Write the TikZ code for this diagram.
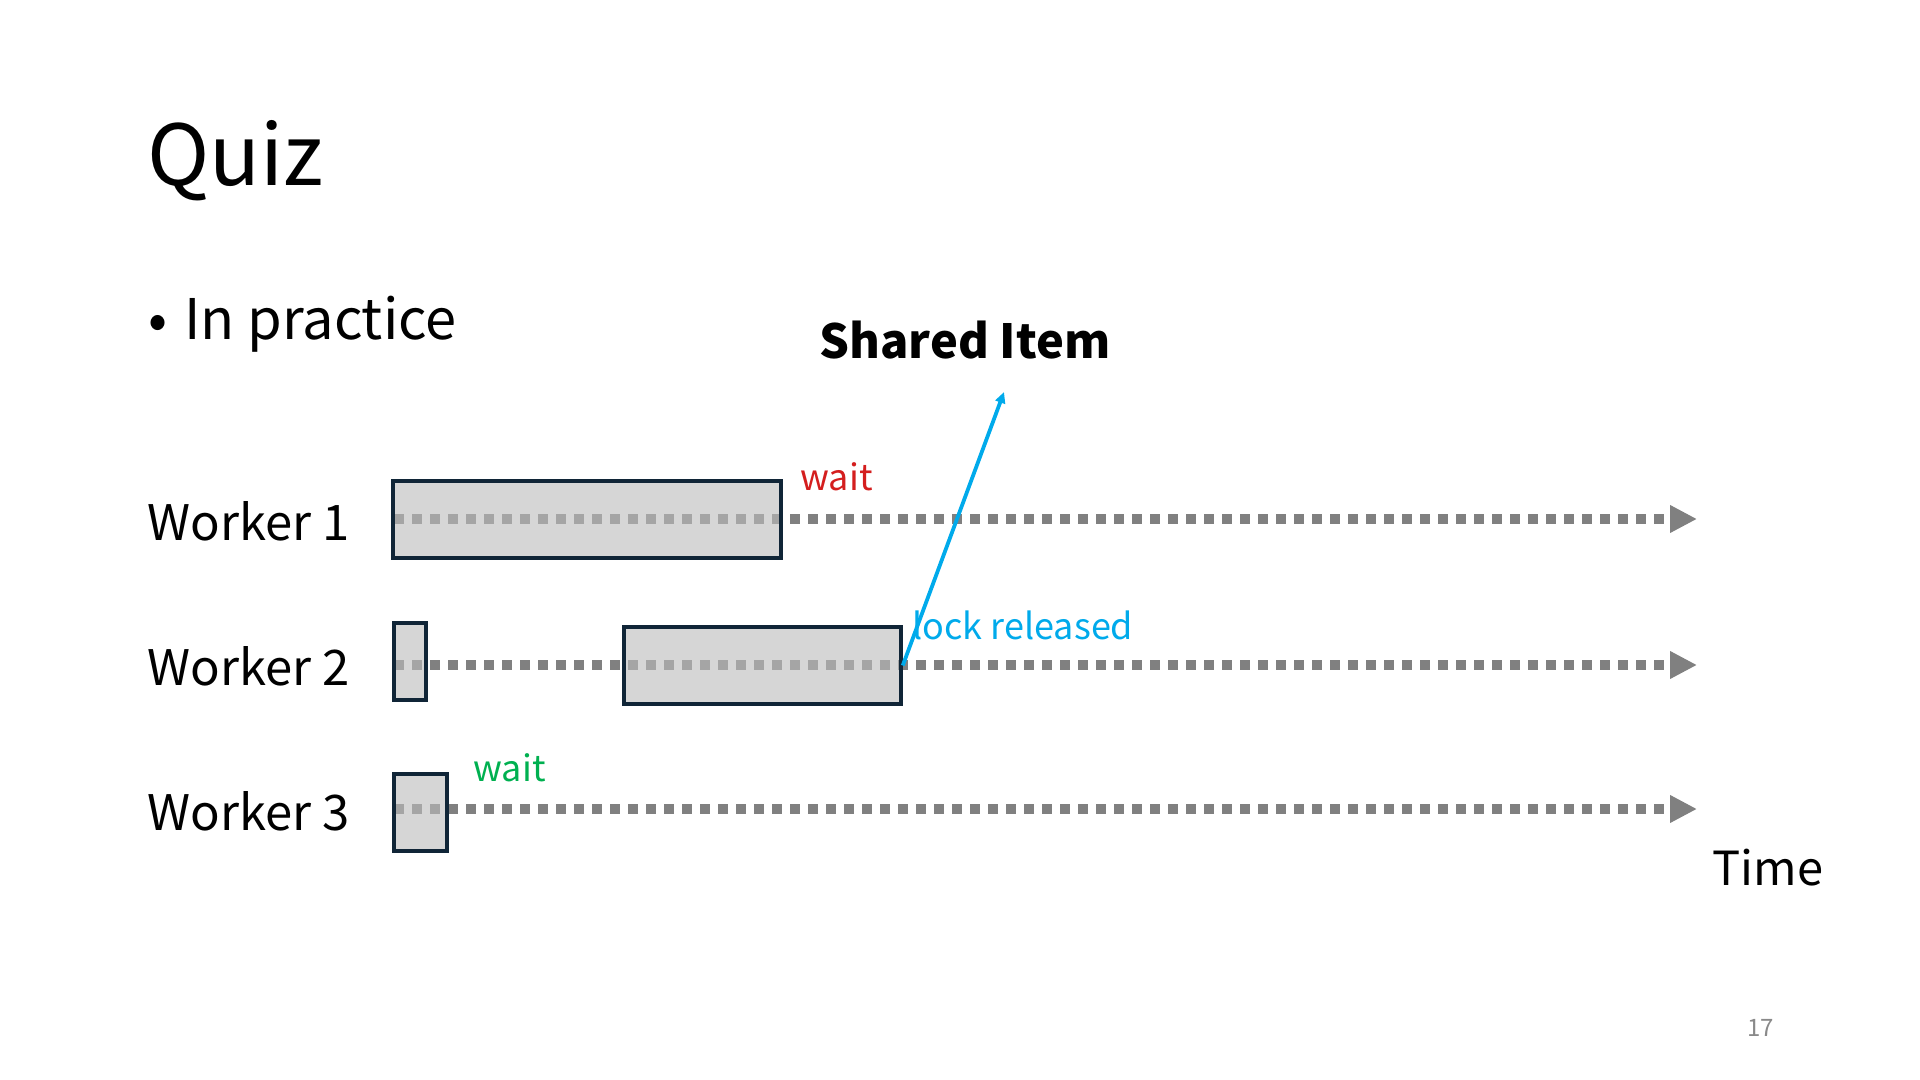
\documentclass[tikz,border=0pt]{standalone}
\usepackage{fontspec}
\setmainfont{Noto Sans CJK JP}
\usepackage{tikz}
\usetikzlibrary{arrows.meta, positioning}
\definecolor{cLine}{RGB}{128,128,128}
\definecolor{cFill}{RGB}{189,189,189}
\definecolor{cEdge}{RGB}{16,37,55}
\definecolor{cRed}{RGB}{212,30,30}
\definecolor{cGreen}{RGB}{0,176,80}
\definecolor{cBlue}{RGB}{0,170,235}
\definecolor{cPage}{RGB}{137,137,137}
\tikzset{
    txt/.style     ={inner sep=0pt, anchor=base west},
    task/.style    ={rectangle, draw=cEdge, line width=1.75pt, fill=cFill, fill opacity=0.62, draw opacity=1, minimum height=38.5pt, inner sep=0pt},
    timeline/.style={cLine, line width=5pt, dash pattern=on 5pt off 4pt, -{Triangle[length=13.5pt, width=13pt]}},
    release/.style ={cBlue, line width=1.9pt, -{Triangle[length=5.5pt, width=5pt]}},
    note/.style    ={txt, font=\fontsize{18pt}{22pt}\selectfont},
    worker/.style  ={txt, font=\fontsize{24.5pt}{30pt}\selectfont},
}

\begin{document}
\begin{tikzpicture}[x=0.5pt, y=-0.5pt]
            \useasboundingbox (0,0) rectangle (1920,1080);
            % title and bullet
            \node[txt, font=\fontsize{42pt}{50pt}\selectfont] (title) at (147,186) {Quiz};
            \node[txt, font=\fontsize{28pt}{34pt}\selectfont] (bullet) at (148,340) {•};
            \node[txt, font=\fontsize{28pt}{34pt}\selectfont] (practice) at (184,340) {In practice};
            \node[txt, font=\bfseries\fontsize{23.5pt}{28pt}\selectfont] (shared) at (819,358) {Shared Item};
            % workers
            \node[worker] (w1) at (147,540) {Worker 1};
            \node[worker] (w2) at (147,685) {Worker 2};
            \node[worker] (w3) at (147,830) {Worker 3};
            % time lines
            \coordinate (s1) at (394,519);
            \coordinate (e1) at (1697,519);
            \coordinate (s2) at (394,665);
            \coordinate (e2) at (1697,665);
            \coordinate (s3) at (394,809);
            \coordinate (e3) at (1697,809);
            \draw[timeline](s1)--(e1);
            \draw[timeline](s2)--(e2);
            \draw[timeline](s3)--(e3);
            % tasks
            \node[task, minimum width=194pt] (b1) at (587,519.5) {};
            \node[task, minimum width=16pt] (b2a) at (410,661.5) {};
            \node[task, minimum width=138.5pt] (b2b) at (762.5,665.5) {};
            \node[task, minimum width=26.5pt] (b3) at (420.5,812.5) {};
            % lock
            \coordinate (item) at (1004,392);
            \draw[release](b2b.east)--(item);
            \node[note, text=cRed] (wait1) at (800,490) {wait};
            \node[note, text=cBlue] (lock) at (912,639) {lock released};
            \node[note, text=cGreen] (wait3) at (473,781) {wait};
            \node[txt, font=\fontsize{23.5pt}{28pt}\selectfont] (time) at (1712,885) {Time};
            \node[txt, text=cPage, font=\fontsize{12pt}{14pt}\selectfont] (page) at (1747,1036) {17};
        \end{tikzpicture}
\end{document}
